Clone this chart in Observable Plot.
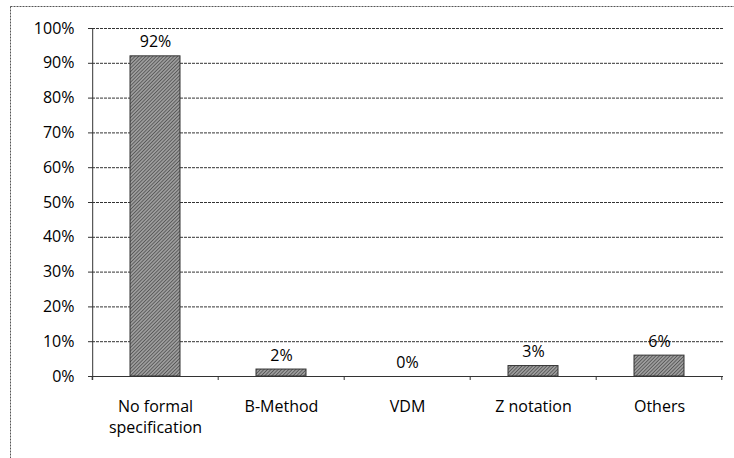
<!DOCTYPE html>
<html>
<head>
<meta charset="utf-8">
<script src="https://cdn.jsdelivr.net/npm/d3@7"></script>
<script src="https://cdn.jsdelivr.net/npm/@observablehq/plot@0.6"></script>
<style>
  html, body { margin: 0; padding: 0; background: #fff; }
  #chart svg { display: block; }
</style>
</head>
<body>
<div id="chart"></div>
<script>
// Share of respondents by formal specification method
const methods = ["No formal\nspecification", "B-Method", "VDM", "Z notation", "Others"];
const shares = [0.92, 0.02, 0.00, 0.03, 0.06];
const yTicks = [0, 0.1, 0.2, 0.3, 0.4, 0.5, 0.6, 0.7, 0.8, 0.9, 1.0];

const data = methods.map((m, i) => ({method: m, share: shares[i]}));
const pct = d3.format(".0%");
const font = "'Open Sans', sans-serif";

const plot = Plot.plot({
  width: 734,
  height: 458,
  marginLeft: 92,
  marginRight: 11,
  marginTop: 28,
  marginBottom: 82,
  style: {fontFamily: font, fontSize: "16px", color: "#000", background: "#fff"},
  x: {domain: methods, paddingInner: 0.6, paddingOuter: 0.3, label: null},
  y: {domain: [0, 1], label: null},
  marks: [
    Plot.gridY(yTicks, {stroke: "#333", strokeOpacity: 1, strokeWidth: 1, strokeDasharray: "3,1"}),
    Plot.axisY(yTicks, {tickFormat: pct, tickSize: 4, tickPadding: 14, stroke: "#333", fontSize: 16}),
    Plot.axisX({tickSize: 0, tickPadding: 21, lineHeight: 1.3, fontSize: 16}),
    Plot.barY(data, {x: "method", y: "share", fill: "url(#hatch)", stroke: "#333", strokeWidth: 1}),
    Plot.text(data, {x: "method", y: "share", text: d => pct(d.share), dy: -9, lineAnchor: "bottom", fontSize: 16}),
    Plot.ruleY([0], {stroke: "#333"})
  ]
});

// Hatched fill for the bars, y axis line, outer chart border and category boundary ticks
const svg = d3.select(plot);
const defs = svg.insert("defs", ":first-child");
const pat = defs.append("pattern")
  .attr("id", "hatch").attr("patternUnits", "userSpaceOnUse")
  .attr("width", 2.5).attr("height", 2.5).attr("patternTransform", "rotate(45)");
pat.append("rect").attr("width", 2.5).attr("height", 2.5).attr("fill", "#9c9c9c");
pat.append("line").attr("x1", 0).attr("y1", 0).attr("x2", 0).attr("y2", 2.5)
  .attr("stroke", "#4a4a4a").attr("stroke-width", 1.4);

svg.append("rect")
  .attr("x", 10.5).attr("y", 6.5).attr("width", 740).attr("height", 470)
  .attr("fill", "none").attr("stroke", "#555").attr("stroke-dasharray", "2,1");

const xs = plot.scale("x");
const ys = plot.scale("y");
const y0 = ys.apply(0);
const y1 = ys.apply(1);
const step = xs.step;
const left = xs.apply(methods[0]) - step * 0.3;
svg.append("line")
  .attr("x1", left + 0.5).attr("x2", left + 0.5)
  .attr("y1", y1).attr("y2", y0 + 4)
  .attr("stroke", "#333");
const edges = methods.map(m => xs.apply(m) - step * 0.3).concat([xs.apply(methods[methods.length - 1]) + xs.bandwidth + step * 0.3]);
svg.append("g").selectAll("line").data(edges).join("line")
  .attr("x1", d => d).attr("x2", d => d)
  .attr("y1", y0).attr("y2", y0 + 4)
  .attr("stroke", "#333");

document.getElementById("chart").append(plot);
</script>
</body>
</html>
